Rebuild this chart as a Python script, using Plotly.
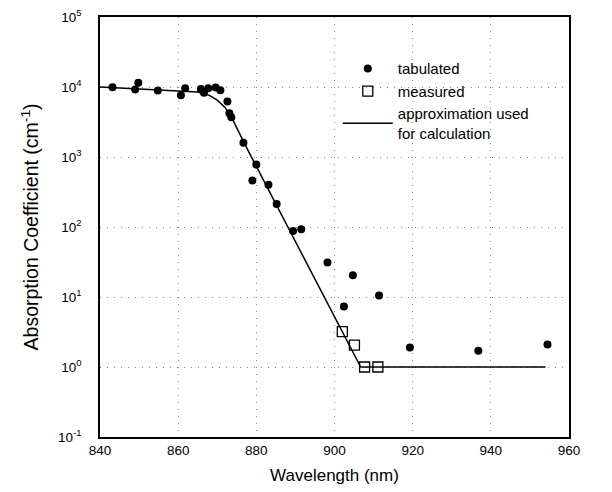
import plotly.graph_objects as go

# Tabulated absorption coefficients (filled circles)
tab_wl = [843.2, 849.0, 849.8, 854.8, 860.7, 861.8, 865.8, 866.6, 867.7, 869.6, 870.8,
          872.6, 873.1, 873.6, 876.7, 880.0, 879.0, 883.1, 885.2, 889.4, 891.5,
          898.2, 904.7, 902.4, 911.4, 919.3, 936.8, 954.5]
tab_val = [9.9e3, 9.2e3, 1.15e4, 8.9e3, 7.6e3, 9.6e3, 9.4e3, 8.3e3, 9.6e3, 9.8e3, 9.0e3,
           6.2e3, 4.2e3, 3.7e3, 1.6e3, 780, 460, 400, 213, 88, 93,
           31, 20.5, 7.3, 10.5, 1.9, 1.7, 2.1]

# Measured values (open squares)
meas_wl = [902.0, 905.1, 907.7, 911.1]
meas_val = [3.2, 2.05, 1.0, 1.0]

# Approximation used for calculation (solid line)
appr_wl = [840, 855, 865, 868, 870, 872, 874, 876, 878, 906.7, 954]
appr_val = [1.0e4, 9.2e3, 8.5e3, 7.6e3, 6.5e3, 5.1e3, 3.4e3, 2.0e3, 1.2e3, 1.0, 1.0]

# Axis ticks
x_ticks = [840, 860, 880, 900, 920, 940, 960]
y_exps = [-1, 0, 1, 2, 3, 4, 5]
y_ticks = [10.0 ** e for e in y_exps]
y_text = [f"10<sup>{e}</sup>" for e in y_exps]

FONT = "Arial, Liberation Sans, Helvetica, sans-serif"

fig = go.Figure()
fig.add_trace(go.Scatter(
    x=tab_wl, y=tab_val, mode="markers", name="tabulated",
    marker=dict(symbol="circle", size=8, color="black")))
fig.add_trace(go.Scatter(
    x=meas_wl, y=meas_val, mode="markers", name="measured",
    marker=dict(symbol="square-open", size=10, color="black", line=dict(width=1.3))))
fig.add_trace(go.Scatter(
    x=appr_wl, y=appr_val, mode="lines", name="approximation used<br>for calculation",
    line=dict(color="black", width=1.5)))

# page has an 8px body margin, so the figure is 604x484 and offset by 8px
fig.update_layout(
    width=604, height=484,
    margin=dict(l=92, r=43, t=9, b=55),
    paper_bgcolor="white", plot_bgcolor="white",
    font=dict(family=FONT, color="black", size=13),
    showlegend=True,
    legend=dict(x=0.507, y=0.916, xanchor="left", yanchor="top",
                bgcolor="rgba(0,0,0,0)", font=dict(size=15, family=FONT),
                tracegroupgap=0, itemwidth=50),
)
fig.update_xaxes(
    range=[840, 960], tickvals=x_ticks, ticktext=[str(v) for v in x_ticks],
    showline=True, linecolor="black", linewidth=1.5, mirror=True,
    showgrid=True, gridcolor="#888", griddash="1px,6px", gridwidth=1,
    zeroline=False, ticks="", tickfont=dict(size=13.5), automargin=False,
    ticklabeloverflow="allow",
    title=dict(text="Wavelength (nm)", font=dict(size=17), standoff=12),
)
fig.update_yaxes(
    type="log", range=[-1, 5], tickvals=y_ticks, ticktext=y_text,
    showline=True, linecolor="black", linewidth=1.5, mirror=True,
    showgrid=True, gridcolor="#888", griddash="1px,6px", gridwidth=1,
    zeroline=False, ticks="", tickfont=dict(size=13.5), ticklabelstandoff=14,
    automargin=False, ticklabeloverflow="allow",
    title=dict(text="Absorption Coefficient (cm<sup>-1</sup>)", font=dict(size=19.5), standoff=14),
)

fig.write_html("out.html")
